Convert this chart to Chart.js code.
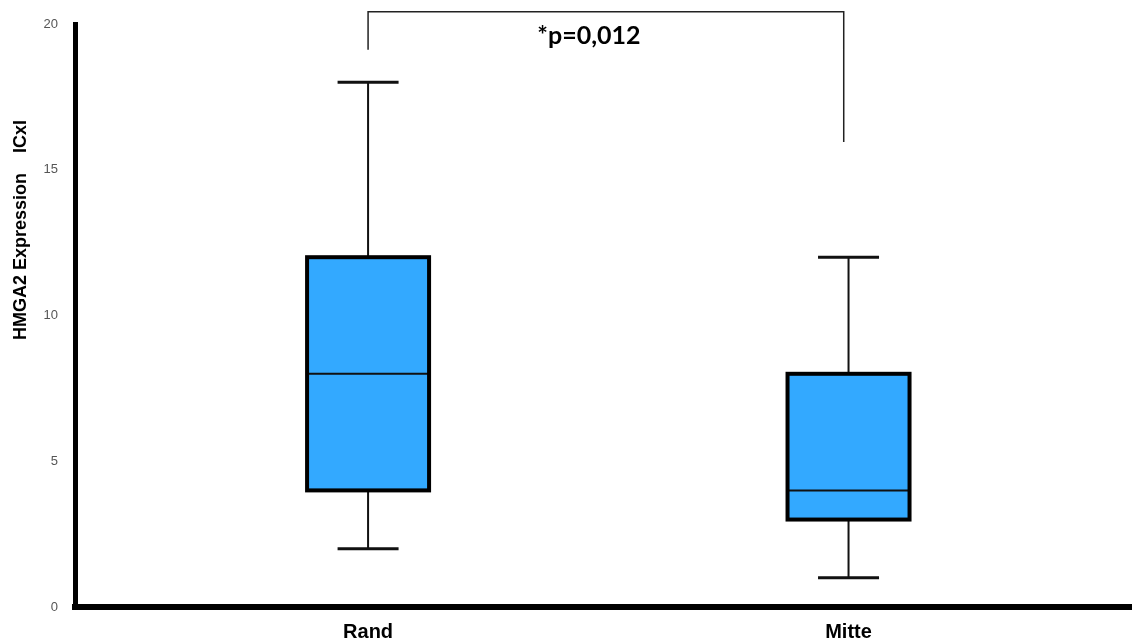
<!DOCTYPE html>
<html>
<head>
<meta charset="utf-8">
<script src="https://cdn.jsdelivr.net/npm/chart.js@4.4.1/dist/chart.umd.min.js"></script>
<style>
  html, body { margin: 0; padding: 0; background: #fff; }
  #wrap { width: 1132px; height: 638px; }
</style>
</head>
<body>
<div id="wrap"><canvas id="boxChart"></canvas></div>
<script>
// box plot data
const categories = ['Rand', 'Mitte'];
const whiskerMin = [2, 1];
const q1 = [4, 3];
const median = [8, 4];
const q3 = [12, 8];
const whiskerMax = [18, 12];
const yTicks = [0, 5, 10, 15, 20];

// significance bracket (data units)
const bracketX = [0, 0.99];
const bracketTop = 20.42;
const bracketEnds = [19.12, 15.95];
const pLabel = '*p=0,012';

const boxFill = '#33a9ff';

const boxPlugin = {
  id: 'boxParts',
  afterDatasetsDraw(chart) {
    const { ctx, scales: { x, y } } = chart;
    const meta = chart.getDatasetMeta(0);
    ctx.save();
    ctx.strokeStyle = '#111';
    meta.data.forEach((bar, i) => {
      const cx = x.getPixelForValue(i);
      const half = bar.width / 2;
      const capHalf = half / 2;
      // whiskers
      ctx.lineWidth = 2;
      ctx.beginPath();
      ctx.moveTo(cx, y.getPixelForValue(q3[i]));
      ctx.lineTo(cx, y.getPixelForValue(whiskerMax[i]));
      ctx.moveTo(cx, y.getPixelForValue(q1[i]));
      ctx.lineTo(cx, y.getPixelForValue(whiskerMin[i]));
      ctx.stroke();
      ctx.lineWidth = 3;
      ctx.beginPath();
      ctx.moveTo(cx - capHalf, y.getPixelForValue(whiskerMax[i]));
      ctx.lineTo(cx + capHalf, y.getPixelForValue(whiskerMax[i]));
      ctx.moveTo(cx - capHalf, y.getPixelForValue(whiskerMin[i]));
      ctx.lineTo(cx + capHalf, y.getPixelForValue(whiskerMin[i]));
      ctx.stroke();
      // median
      ctx.lineWidth = 2;
      ctx.beginPath();
      ctx.moveTo(cx - half, y.getPixelForValue(median[i]));
      ctx.lineTo(cx + half, y.getPixelForValue(median[i]));
      ctx.stroke();
      // box outline
      ctx.lineWidth = 4;
      ctx.strokeStyle = '#000';
      const top = y.getPixelForValue(q3[i]);
      const bot = y.getPixelForValue(q1[i]);
      ctx.strokeRect(cx - half, top, half * 2, bot - top);
      ctx.strokeStyle = '#111';
    });
    ctx.restore();
  },
  afterDraw(chart) {
    const { ctx, scales: { x, y } } = chart;
    ctx.save();
    // bracket
    const xl = x.getPixelForValue(bracketX[0]);
    const xr = x.getPixelForValue(bracketX[1]);
    const yt = y.getPixelForValue(bracketTop);
    ctx.strokeStyle = '#222';
    ctx.lineWidth = 1.5;
    ctx.beginPath();
    ctx.moveTo(xl, y.getPixelForValue(bracketEnds[0]));
    ctx.lineTo(xl, yt);
    ctx.lineTo(xr, yt);
    ctx.lineTo(xr, y.getPixelForValue(bracketEnds[1]));
    ctx.stroke();
    ctx.fillStyle = '#000';
    ctx.font = 'bold 25px Lato, "Liberation Sans", sans-serif';
    ctx.textAlign = 'center';
    ctx.textBaseline = 'middle';
    ctx.fillText(pLabel, (xl + xr) / 2 - 17, yt + 24);
    // y axis title
    ctx.translate(21, 230);
    ctx.rotate(-Math.PI / 2);
    ctx.font = 'bold 18px "Liberation Sans", Arial, sans-serif';
    ctx.fillText('HMGA2 Expression    ICxI', 0, 0);
    ctx.restore();
  }
};

new Chart(document.getElementById('boxChart').getContext('2d'), {
  type: 'bar',
  data: {
    datasets: [{
      data: categories.map((c, i) => ({ x: i, y: [q1[i], q3[i]] })),
      backgroundColor: boxFill,
      borderWidth: 0,
      barThickness: 122
    }]
  },
  options: {
    responsive: true,
    maintainAspectRatio: false,
    animation: false,
    layout: { padding: { top: 24, right: 0, left: 0, bottom: 0 } },
    plugins: { legend: { display: false }, tooltip: { enabled: false } },
    scales: {
      x: {
        type: 'linear',
        min: -0.61,
        max: 1.59,
        offset: false,
        grid: { display: false },
        border: { display: true, color: '#000', width: 6 },
        afterBuildTicks: s => { s.ticks = categories.map((c, i) => ({ value: i })); },
        afterFit: s => { s.height = 31; },
        ticks: {
          callback: v => categories[v],
          color: '#000',
          padding: 5,
          font: { family: '"Liberation Sans", Arial, sans-serif', size: 20, weight: 'bold' }
        }
      },
      y: {
        min: 0,
        max: 20,
        grid: { display: false },
        border: { display: true, color: '#000', width: 5 },
        afterBuildTicks: s => { s.ticks = yTicks.map(v => ({ value: v })); },
        afterFit: s => { s.width = 75; },
        ticks: {
          color: '#555',
          padding: 9,
          font: { family: '"Liberation Sans", Arial, sans-serif', size: 13 }
        }
      }
    }
  },
  plugins: [boxPlugin]
});
</script>
</body>
</html>
